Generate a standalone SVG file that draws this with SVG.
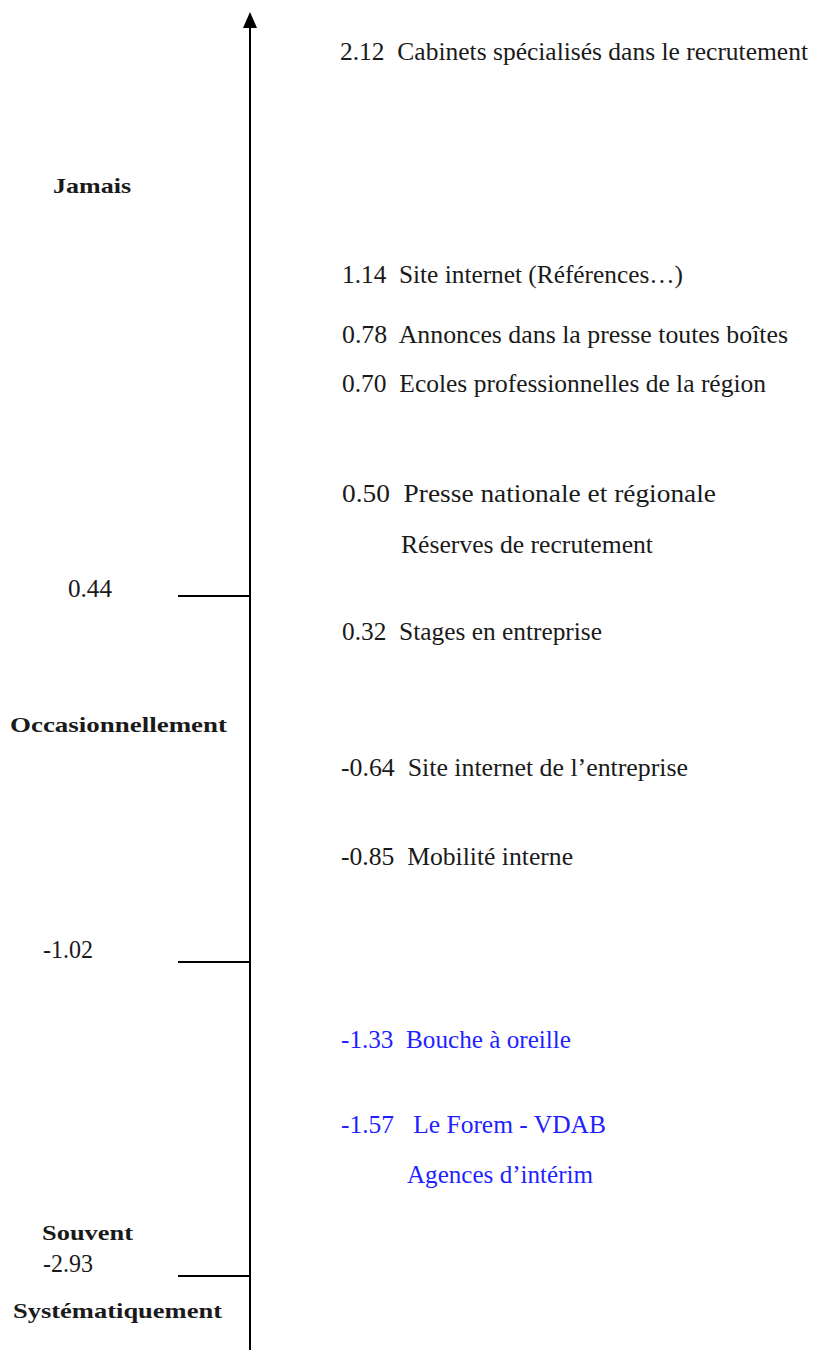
<svg xmlns="http://www.w3.org/2000/svg" width="813" height="1350" viewBox="0 0 813 1350">
<style>
text{font-family:"Liberation Serif","Times New Roman",serif;font-size:25px;fill:#1a1a1a;white-space:pre}
.b{font-weight:bold;font-size:22px}
.blue{fill:#1f1fff}
.ax{stroke:#000;stroke-width:2;fill:none}
</style>
<rect width="813" height="1350" fill="#fff"/>
<g id="connectors">
<line class="ax" x1="250" y1="1350" x2="250" y2="27"/>
<path d="M243,28 L250,12 L257,28 Z" fill="#000"/>
<line class="ax" x1="178" y1="596" x2="250" y2="596"/>
<line class="ax" x1="178" y1="962" x2="250" y2="962"/>
<line class="ax" x1="178" y1="1276" x2="250" y2="1276"/>
</g>
<g id="axis-labels">
<text class="b" x="53" y="193" textLength="78" lengthAdjust="spacingAndGlyphs">Jamais</text>
<text x="68" y="597" textLength="44" lengthAdjust="spacingAndGlyphs">0.44</text>
<text class="b" x="10" y="732" textLength="217" lengthAdjust="spacingAndGlyphs">Occasionnellement</text>
<text x="43" y="958" textLength="50" lengthAdjust="spacingAndGlyphs">-1.02</text>
<text class="b" x="42" y="1240" textLength="91" lengthAdjust="spacingAndGlyphs">Souvent</text>
<text x="43" y="1272" textLength="50" lengthAdjust="spacingAndGlyphs">-2.93</text>
<text class="b" x="13" y="1318" textLength="209" lengthAdjust="spacingAndGlyphs">Systématiquement</text>
</g>
<g id="n212"><text x="340" y="60" textLength="468" lengthAdjust="spacingAndGlyphs">2.12  Cabinets spécialisés dans le recrutement</text></g>
<g id="n114"><text x="342" y="283" textLength="341" lengthAdjust="spacingAndGlyphs">1.14  Site internet (Références…)</text></g>
<g id="n078"><text x="342" y="343" textLength="446" lengthAdjust="spacingAndGlyphs">0.78  Annonces dans la presse toutes boîtes</text></g>
<g id="n070"><text x="342" y="392" textLength="424" lengthAdjust="spacingAndGlyphs">0.70  Ecoles professionnelles de la région</text></g>
<g id="n050"><text x="342" y="502" textLength="374" lengthAdjust="spacingAndGlyphs">0.50  Presse nationale et régionale</text><text x="401" y="553" textLength="252" lengthAdjust="spacingAndGlyphs">Réserves de recrutement</text></g>
<g id="n032"><text x="342" y="640" textLength="260" lengthAdjust="spacingAndGlyphs">0.32  Stages en entreprise</text></g>
<g id="n064"><text x="341" y="776" textLength="347" lengthAdjust="spacingAndGlyphs">-0.64  Site internet de l’entreprise</text></g>
<g id="n085"><text x="341" y="865" textLength="232" lengthAdjust="spacingAndGlyphs">-0.85  Mobilité interne</text></g>
<g id="n133"><text class="blue" x="341" y="1048" textLength="230" lengthAdjust="spacingAndGlyphs">-1.33  Bouche à oreille</text></g>
<g id="n157"><text class="blue" x="341" y="1133" textLength="265" lengthAdjust="spacingAndGlyphs">-1.57   Le Forem - VDAB</text><text class="blue" x="407" y="1183" textLength="186" lengthAdjust="spacingAndGlyphs">Agences d’intérim</text></g>
</svg>
